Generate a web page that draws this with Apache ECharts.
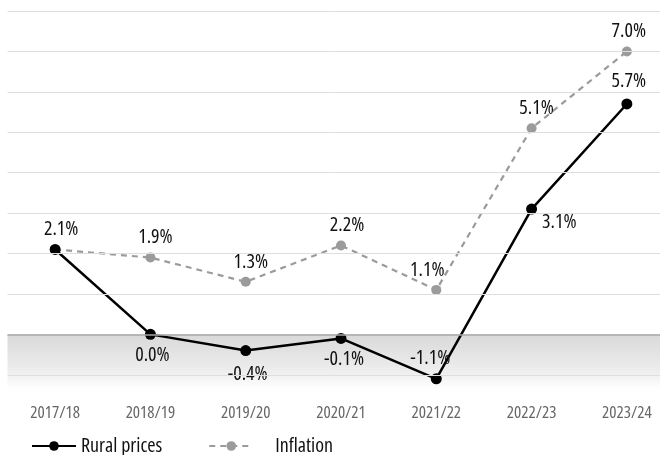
<!DOCTYPE html>
<html>
<head>
<meta charset="utf-8">
<script src="https://cdn.jsdelivr.net/npm/echarts@6/dist/echarts.min.js"></script>
<style>
  html, body { margin: 0; padding: 0; background: #fff; }
  #chart { width: 660px; height: 455px; }
</style>
</head>
<body>
<div id="chart"></div>
<script>
// Financial years on the x axis
const years = ['2017/18', '2018/19', '2019/20', '2020/21', '2021/22', '2022/23', '2023/24'];
// Annual change, per cent
const ruralPrices = [2.1, 0.0, -0.4, -0.1, -1.1, 3.1, 5.7];
const inflation = [2.1, 1.9, 1.3, 2.2, 1.1, 5.1, 7.0];
// Horizontal reference lines
const gridValues = [-1, 1, 2, 3, 4, 5, 6, 7, 8];

// Open Sans is a variable font; the 'condensed' stretch keyword narrows it
const FONT = '"Open Sans", "Roboto Condensed", sans-serif';

// Label placement for each point
const ruralLabelPos = [
  { position: 'top', offset: [6, 0] },
  { position: 'bottom', offset: [2, 0] },
  { position: 'bottom', offset: [2, 3] },
  { position: 'bottom', offset: [3, 0] },
  { position: 'top', offset: [-6, 0] },
  { position: 'right', offset: [0, 13] },
  { position: 'top', offset: [2, -2] }
];
const inflationLabelPos = [
  { show: false },
  { position: 'top', offset: [5, 0] },
  { position: 'top', offset: [5, 0] },
  { position: 'top', offset: [6, 0] },
  { position: 'top', offset: [-9, 0] },
  { position: 'top', offset: [5, 0] },
  { position: 'top', offset: [2, 0] }
];

const labelStyle = {
  show: true,
  fontFamily: FONT,
  fontWeight: '500 condensed',
  fontSize: 20,
  color: '#111',
  formatter: p => p.value.toFixed(1) + '%'
};

const chart = echarts.init(document.getElementById('chart'), null, { renderer: 'canvas' });

chart.setOption({
  animation: false,
  backgroundColor: '#fff',
  grid: { left: 7.5, top: 11, width: 667, bottom: 60, outerBoundsMode: 'none', containLabel: false },
  legend: {
    left: 26,
    top: 431,
    itemWidth: 44,
    itemHeight: 12,
    itemGap: 46,
    textStyle: { fontFamily: FONT, fontWeight: 'normal condensed', fontSize: 20, color: '#111' },
    data: [
      { name: 'Rural prices' },
      { name: 'Inflation', textStyle: { padding: [0, 0, 0, 17] } }
    ]
  },
  xAxis: {
    type: 'category',
    data: years,
    boundaryGap: true,
    axisLine: { show: false },
    axisTick: { show: false },
    axisLabel: { fontFamily: FONT, fontWeight: 'normal condensed', fontSize: 17, color: '#666', margin: 10 }
  },
  yAxis: {
    type: 'value',
    min: -1.5,
    max: 8,
    axisLine: { show: false },
    axisTick: { show: false },
    axisLabel: { show: false },
    splitLine: { show: false }
  },
  series: [
    {
      // background layer: shaded negative band and horizontal rules
      name: 'background',
      type: 'line',
      z: 0,
      data: [],
      silent: true,
      markArea: {
        silent: true,
        itemStyle: {
          color: {
            type: 'linear', x: 0, y: 0, x2: 0, y2: 1,
            colorStops: [
              { offset: 0, color: '#d9d9d9' },
              { offset: 0.62, color: '#eeeeee' },
              { offset: 0.9, color: '#ffffff' },
              { offset: 1, color: '#ffffff' }
            ]
          }
        },
        data: [[{ yAxis: 0 }, { yAxis: -1.5 }]]
      },
      markLine: {
        silent: true,
        symbol: 'none',
        label: { show: false },
        emphasis: { disabled: true },
        data: gridValues.map(v => ({ yAxis: v, lineStyle: { color: '#dedede', width: 1, type: 'solid' } }))
          .concat([{ yAxis: 0, lineStyle: { color: '#a8a8a8', width: 1.5, type: 'solid' } }])
      }
    },
    {
      name: 'Inflation',
      type: 'line',
      z: 2,
      data: inflation.map((v, i) => ({ value: v, label: inflationLabelPos[i] })),
      symbol: 'circle',
      symbolSize: 10,
      itemStyle: { color: '#9b9b9b' },
      lineStyle: { color: '#9b9b9b', width: 2.2, type: [6, 5] },
      label: labelStyle
    },
    {
      name: 'Rural prices',
      type: 'line',
      z: 3,
      data: ruralPrices.map((v, i) => ({ value: v, label: ruralLabelPos[i] })),
      symbol: 'circle',
      symbolSize: 11,
      itemStyle: { color: '#000' },
      lineStyle: { color: '#000', width: 2.5 },
      label: labelStyle
    }
  ]
});
</script>
</body>
</html>
